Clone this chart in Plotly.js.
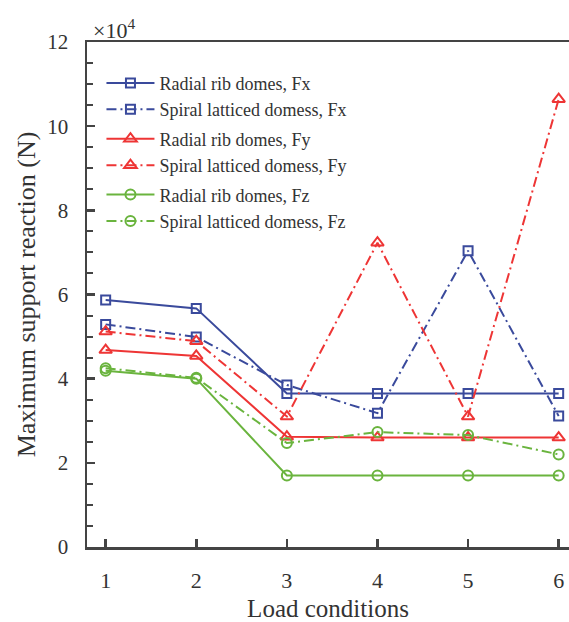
<!DOCTYPE html>
<html>
<head>
<meta charset="utf-8">
<script src="https://cdn.plot.ly/plotly-3.0.1.min.js"></script>
<style>html,body{margin:0;padding:0;background:#fff;}#chart{width:569px;height:622px;}</style>
</head>
<body>
<div id="chart"></div>
<script>
// values in units of 10^4 N
var loads = [1, 2, 3, 4, 5, 6];
var radialFx = [5.87, 5.67, 3.65, 3.65, 3.65, 3.65];
var spiralFx = [5.29, 4.99, 3.85, 3.18, 7.04, 3.11];
var radialFy = [4.68, 4.54, 2.62, 2.60, 2.60, 2.60];
var spiralFy = [5.12, 4.89, 3.10, 7.23, 3.10, 10.64];
var radialFz = [4.19, 4.00, 1.70, 1.70, 1.70, 1.70];
var spiralFz = [4.25, 4.02, 2.47, 2.73, 2.66, 2.20];
var seriesNames = ["Radial rib domes, Fx", "Spiral latticed domess, Fx",
                   "Radial rib domes, Fy", "Spiral latticed domess, Fy",
                   "Radial rib domes, Fz", "Spiral latticed domess, Fz"];
var yTickVals = [0, 2, 4, 6, 8, 10, 12];
var yTickText = ["0", "2", "4", "6", "8", "10", "12"];
var yMinorVals = [0.5, 1, 1.5, 2.5, 3, 3.5, 4.5, 5, 5.5, 6.5, 7, 7.5, 8.5, 9, 9.5, 10.5, 11, 11.5];

var BLUE = "#3a4a9c", RED = "#ee3535", GREEN = "#6ab43e";
var DASHDOT = "10px,4px,2px,4px";

function tr(y, name, color, dash, symbol, size, group) {
  return {
    x: loads, y: y, name: name, type: "scatter", mode: "lines+markers",
    legendgroup: group,
    line: {color: color, width: 2, dash: dash},
    marker: {symbol: symbol, size: size, color: color, line: {color: color, width: 2}}
  };
}

var data = [
  tr(radialFx, seriesNames[0], BLUE, "solid", "square-open", 9, "fx"),
  tr(spiralFx, seriesNames[1], BLUE, DASHDOT, "square-open", 9, "fx"),
  tr(radialFy, seriesNames[2], RED, "solid", "triangle-up-open", 11, "fy"),
  tr(spiralFy, seriesNames[3], RED, DASHDOT, "triangle-up-open", 11, "fy"),
  tr(radialFz, seriesNames[4], GREEN, "solid", "circle-open", 10, "fz"),
  tr(spiralFz, seriesNames[5], GREEN, DASHDOT, "circle-open", 10, "fz")
];

var FONT = "Liberation Serif";
var layout = {
  width: 569, height: 622,
  margin: {l: 87, r: 0, t: 42, b: 75},
  paper_bgcolor: "#fff", plot_bgcolor: "#fff",
  font: {family: FONT, color: "#333", size: 21},
  showlegend: true,
  legend: {
    x: 0.03, y: 0.955, xanchor: "left", yanchor: "top",
    bgcolor: "rgba(255,255,255,0)", borderwidth: 0,
    font: {family: FONT, size: 18, color: "#333"},
    traceorder: "grouped", tracegroupgap: 3, itemwidth: 48
  },
  xaxis: {
    range: [0.794, 6.114],
    tickvals: loads, ticktext: loads.map(String),
    ticks: "inside", ticklen: 8, tickwidth: 2.5, tickcolor: "#444",
    showline: true, linecolor: "#444", linewidth: 2.5, mirror: true,
    showgrid: false, zeroline: false,
    tickfont: {family: FONT, size: 22, color: "#333"},
    ticklabelstandoff: 12,
    title: {text: "Load conditions", font: {family: FONT, size: 25, color: "#333"}, standoff: 8}
  },
  yaxis: {
    range: [0, 12],
    tickvals: yTickVals, ticktext: yTickText,
    ticks: "inside", ticklen: 8, tickwidth: 2.5, tickcolor: "#444",
    minor: {tickvals: yMinorVals, ticks: "inside", ticklen: 6, tickwidth: 2, tickcolor: "#444", showgrid: false},
    showline: true, linecolor: "#444", linewidth: 2.5,
    showgrid: false, zeroline: false,
    tickfont: {family: FONT, size: 21, color: "#333"},
    ticklabelstandoff: 12,
    title: {text: "Maximum support reaction (N)", font: {family: FONT, size: 26, color: "#333"}, standoff: 4}
  },
  annotations: [{
    xref: "paper", yref: "paper", x: 0.008, y: 0.995, xanchor: "left", yanchor: "bottom",
    text: "×10<sup>4</sup>", showarrow: false,
    font: {family: FONT, size: 22, color: "#333"}
  }]
};

Plotly.newPlot("chart", data, layout, {displayModeBar: false, staticPlot: true});
</script>
</body>
</html>
